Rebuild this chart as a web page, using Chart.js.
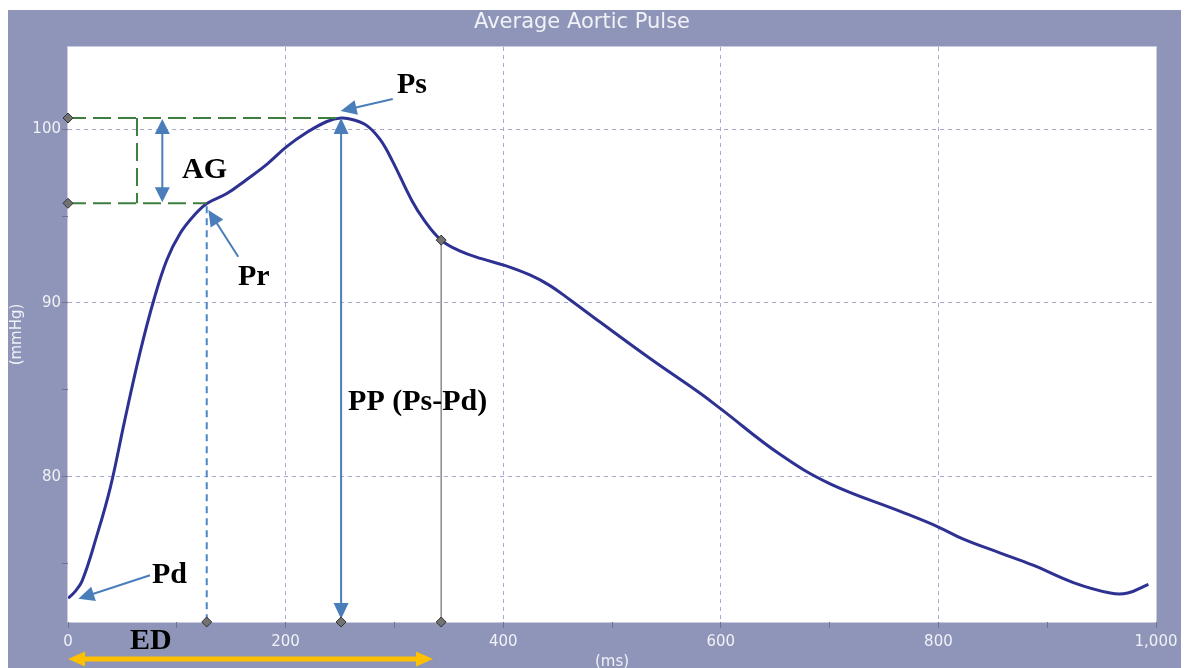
<!DOCTYPE html>
<html>
<head>
<meta charset="utf-8">
<script src="https://cdn.jsdelivr.net/npm/chart.js@4.4.1/dist/chart.umd.min.js"></script>
<style>
html,body{margin:0;padding:0;background:#fff;overflow:hidden}
#wrap{width:1185px;height:668px}
</style>
</head>
<body>
<div id="wrap"><canvas id="c" width="1185" height="668"></canvas></div>
<script>
// ---- chart text ----
const chartTitle = 'Average Aortic Pulse';
const xAxisTitle = '(ms)';
const yAxisTitle = '(mmHg)';

// ---- axis ranges ----
const xMin = 0, xMax = 1000;
const yMin = 71.63, yMax = 104.74;

// ---- pulse curve (time in ms, pressure in mmHg) ----
const timeMs = [0, 6, 13, 26, 39, 52, 66, 79, 91, 103, 116, 128, 146, 164, 183, 201, 219, 238, 251,
  262, 275, 287, 298, 316, 327, 343, 360, 380, 402, 425, 443, 461, 489, 535, 581, 600,
  654, 700, 765, 800, 823, 857, 887, 924, 958, 974, 993];
const pressure = [73.0, 73.35, 74.0, 76.5, 79.4, 83.2, 87.1, 90.2, 92.5, 94.0, 95.05, 95.74, 96.3, 97.1, 98.0, 99.0, 99.8, 100.45, 100.65,
  100.55, 100.2, 99.4, 98.2, 95.9, 94.8, 93.62, 93.0, 92.55, 92.15, 91.6, 91.0, 90.2, 88.9, 86.8, 84.8, 83.9,
  81.3, 79.6, 78.0, 77.1, 76.4, 75.6, 74.9, 73.9, 73.3, 73.3, 73.8];

// ---- key points of the annotation (data units) ----
const psT = 251, psP = 100.65;      // systolic peak
const prT = 127.5, prP = 95.74;     // reflection point
const notchT = 343, notchP = 93.62; // end of ejection
const agBoxT = 63.4;                // green bracket
const agArrowT = 86.7;              // AG double arrow
const edEndT = 335.5, edArrowP = 69.5;

// ---- annotation labels (left x in ms, baseline in mmHg) ----
const markLabels = ['AG', 'Pr', 'Ps', 'PP (Ps-Pd)', 'Pd', 'ED'];
const markLabelT = [104.8, 156.2, 302.4, 257.4, 77.2, 57];
const markLabelP = [97.19, 91.03, 102.11, 83.82, 73.87, 70.1];

// ---- pointer arrows [fromT, fromP, toT, toP] ----
const pointerArrows = [
  [298.5, 101.74, 250.6, 101.05], // Ps
  [156.5, 92.66, 129, 95.35],     // Pr
  [75.4, 74.32, 9.5, 72.97]       // Pd
];

const FRAME = '#8E95B8';
const LABEL = '#F1F2F7';
const GRID = '#A6A9D2';
const BLUE = '#4A7EBB';
const GREEN = '#3E7E3E';

function head(ctx, x1, y1, x2, y2, len, w) {
  const a = Math.atan2(y2 - y1, x2 - x1);
  const bx = x2 - len * Math.cos(a), by = y2 - len * Math.sin(a);
  ctx.beginPath();
  ctx.moveTo(x2, y2);
  ctx.lineTo(bx + (w / 2) * Math.sin(a), by - (w / 2) * Math.cos(a));
  ctx.lineTo(bx - (w / 2) * Math.sin(a), by + (w / 2) * Math.cos(a));
  ctx.closePath();
  ctx.fill();
}
function arrow(ctx, x1, y1, x2, y2, o) {
  const a = Math.atan2(y2 - y1, x2 - x1);
  const k = o.len * 0.7;
  const sx = o.both ? x1 + k * Math.cos(a) : x1, sy = o.both ? y1 + k * Math.sin(a) : y1;
  const ex = x2 - k * Math.cos(a), ey = y2 - k * Math.sin(a);
  ctx.save();
  ctx.strokeStyle = o.color; ctx.fillStyle = o.color; ctx.lineWidth = o.width; ctx.setLineDash([]);
  ctx.beginPath(); ctx.moveTo(sx, sy); ctx.lineTo(ex, ey); ctx.stroke();
  head(ctx, x1, y1, x2, y2, o.len, o.w);
  if (o.both) head(ctx, x2, y2, x1, y1, o.len, o.w);
  ctx.restore();
}
function diamond(ctx, x, y) {
  ctx.save();
  ctx.setLineDash([]);
  ctx.fillStyle = '#727272'; ctx.strokeStyle = '#333333'; ctx.lineWidth = 1;
  ctx.beginPath();
  ctx.moveTo(x, y - 5); ctx.lineTo(x + 5, y); ctx.lineTo(x, y + 5); ctx.lineTo(x - 5, y);
  ctx.closePath(); ctx.fill(); ctx.stroke();
  ctx.restore();
}
function line(ctx, x1, y1, x2, y2, color, width, dash) {
  ctx.save();
  ctx.strokeStyle = color; ctx.lineWidth = width; ctx.setLineDash(dash || []);
  ctx.beginPath(); ctx.moveTo(x1, y1); ctx.lineTo(x2, y2); ctx.stroke();
  ctx.restore();
}

const framePlugin = {
  id: 'frame',
  beforeDraw(chart) {
    const ctx = chart.ctx, a = chart.chartArea;
    ctx.save();
    ctx.fillStyle = '#ffffff';
    ctx.fillRect(0, 0, chart.width, chart.height);
    ctx.fillStyle = FRAME;
    ctx.fillRect(8, 10, chart.width - 12, chart.height - 10);
    ctx.fillStyle = '#ffffff';
    ctx.fillRect(a.left, a.top, a.right - a.left, a.bottom - a.top);
    ctx.strokeStyle = '#C9CCE1'; ctx.lineWidth = 1;
    ctx.strokeRect(a.left - 0.5, a.top - 0.5, a.right - a.left + 1, a.bottom - a.top + 1);
    ctx.restore();
  }
};

const annotPlugin = {
  id: 'annot',
  afterDraw(chart) {
    const ctx = chart.ctx;
    const X = v => chart.scales.x.getPixelForValue(v);
    const Y = v => chart.scales.y.getPixelForValue(v);
    const bottom = chart.chartArea.bottom;

    // green dashed bracket
    line(ctx, X(0), Y(psP), X(psT), Y(psP), GREEN, 2, [18, 7]);
    line(ctx, X(0), Y(prP), X(prT), Y(prP), GREEN, 2, [18, 7]);
    line(ctx, X(agBoxT), Y(psP), X(agBoxT), Y(prP), GREEN, 2, [18, 7]);

    // blue dashed Pr drop line
    line(ctx, X(prT), Y(prP) + 3, X(prT), bottom, '#4A86C8', 2, [7, 5]);
    // grey notch line
    line(ctx, X(notchT), Y(notchP), X(notchT), bottom, '#8A8A8A', 1.5);

    // AG double arrow
    arrow(ctx, X(agArrowT), Y(psP) + 1, X(agArrowT), Y(prP) - 1, {color: BLUE, width: 2, len: 15, w: 15, both: true});
    // PP double arrow
    arrow(ctx, X(psT), Y(psP), X(psT), bottom - 3, {color: BLUE, width: 2, len: 16, w: 15, both: true});

    // pointers
    pointerArrows.forEach(p => {
      arrow(ctx, X(p[0]), Y(p[1]), X(p[2]), Y(p[3]), {color: BLUE, width: 2, len: 16, w: 15, both: false});
    });

    // ED orange arrow
    arrow(ctx, X(0), Y(edArrowP), X(edEndT), Y(edArrowP), {color: '#FFC000', width: 5, len: 17, w: 15, both: true});

    // diamonds
    diamond(ctx, X(0), Y(psP));
    diamond(ctx, X(0), Y(prP));
    diamond(ctx, X(prT), bottom);
    diamond(ctx, X(psT), bottom);
    diamond(ctx, X(notchT), bottom);
    diamond(ctx, X(notchT), Y(notchP));

    // labels
    ctx.save();
    ctx.fillStyle = '#000000';
    ctx.font = 'bold 30px "Liberation Serif", "Times New Roman", serif';
    ctx.textAlign = 'left';
    ctx.textBaseline = 'alphabetic';
    markLabels.forEach((t, i) => ctx.fillText(t, X(markLabelT[i]), Y(markLabelP[i])));
    ctx.restore();
  }
};

new Chart(document.getElementById('c'), {
  type: 'line',
  data: {
    datasets: [{
      data: timeMs.map((t, i) => ({x: t, y: pressure[i]})),
      borderColor: '#2D3192',
      borderWidth: 3,
      pointRadius: 0,
      tension: 0.4,
      fill: false
    }]
  },
  options: {
    responsive: false,
    animation: false,
    events: [],
    layout: {padding: {left: 8, top: 10, right: 29, bottom: 0}},
    plugins: {
      legend: {display: false},
      tooltip: {enabled: false},
      title: {
        display: true, text: chartTitle, color: LABEL,
        font: {family: 'DejaVu Sans', size: 21, weight: 'normal', lineHeight: 1.2},
        padding: {top: 0, bottom: 11.8}
      }
    },
    scales: {
      x: {
        type: 'linear', min: xMin, max: xMax,
        afterFit(s) { s.height = 46; },
        ticks: {
          stepSize: 100, autoSkip: false, maxRotation: 0, includeBounds: false, padding: 5,
          color: LABEL, font: {family: 'DejaVu Sans', size: 15},
          callback: v => (v % 200 === 0 ? v.toLocaleString('en-US') : '')
        },
        grid: {
          color: c => (c.tick && c.tick.value % 200 === 0 && c.tick.value > xMin && c.tick.value < xMax) ? GRID : 'rgba(0,0,0,0)',
          tickColor: '#6F7390', tickLength: 6, lineWidth: 1
        },
        border: {display: false, dash: [4, 4]},
        title: {display: true, text: xAxisTitle, color: LABEL, font: {family: 'DejaVu Sans', size: 15, lineHeight: 0.8}, padding: {top: 0, bottom: 0}}
      },
      y: {
        min: yMin, max: yMax,
        afterFit(s) { s.width = 60; },
        ticks: {
          stepSize: 5, autoSkip: false, includeBounds: false, padding: 1,
          color: LABEL, font: {family: 'DejaVu Sans', size: 15},
          callback: v => (v % 10 === 0 ? String(v) : '')
        },
        grid: {
          color: c => (c.tick && c.tick.value % 10 === 0) ? GRID : 'rgba(0,0,0,0)',
          tickColor: '#6F7390', tickLength: 6, lineWidth: 1
        },
        border: {display: false, dash: [4, 4]},
        title: {display: true, text: yAxisTitle, color: LABEL, font: {family: 'DejaVu Sans', size: 15, lineHeight: 1.2}, padding: {top: 0, bottom: 0}}
      }
    }
  },
  plugins: [framePlugin, annotPlugin]
});
</script>
</body>
</html>
